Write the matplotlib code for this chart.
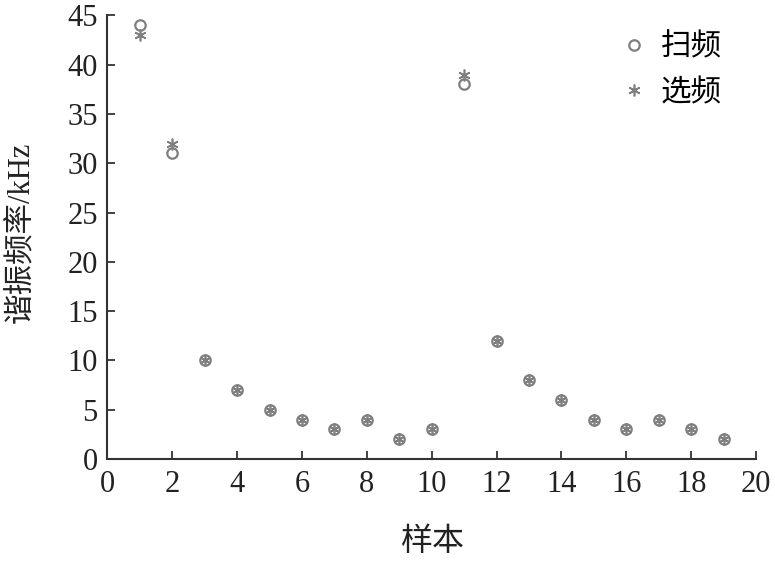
import matplotlib
matplotlib.use("Agg")
import matplotlib.pyplot as plt

plt.rcParams['font.family'] = ['Liberation Serif', 'Noto Sans CJK SC']

samples = list(range(1, 20))
sweep = [44, 31, 10, 7, 5, 4, 3, 4, 2, 3, 38, 12, 8, 6, 4, 3, 4, 3, 2]
select = [43, 32, 10, 7, 5, 4, 3, 4, 2, 3, 39, 12, 8, 6, 4, 3, 4, 3, 2]
xticks = list(range(0, 21, 2))
yticks = list(range(0, 46, 5))

fig = plt.figure(figsize=(7.75, 5.61), dpi=100)
ax = fig.add_axes([0.1387, 0.1818, 0.9755 - 0.1387, 0.9724 - 0.1818])

grey = '#7f7f7f'
ax.plot(samples, sweep, linestyle='none', marker='o', markersize=7.5,
        markerfacecolor='none', markeredgecolor=grey, markeredgewidth=1.6, label='扫频')
ax.plot(samples, select, linestyle='none', marker=(6, 2, 0), markersize=8.5,
        markeredgecolor=grey, markeredgewidth=1.2, color=grey, label='选频')

ax.set_xlim(0, 20)
ax.set_ylim(0, 45)
ax.set_xticks(xticks)
ax.set_yticks(yticks)
ax.tick_params(direction='in', length=6, width=1.2, labelsize=22, pad=8, colors='#222222')
ax.tick_params(axis='y', pad=7)
for s in ['top', 'right']:
    ax.spines[s].set_visible(False)
for s in ['left', 'bottom']:
    ax.spines[s].set_linewidth(1.5)
    ax.spines[s].set_color('#333333')

ax.set_xlabel('样本', fontsize=23, color='#222222')
ax.xaxis.set_label_coords(0.5, -0.155)
ax.set_ylabel('谐振频率/kHz', fontsize=22, color='#222222')
ax.yaxis.set_label_coords(-0.11, 0.51)

leg = ax.legend(loc='upper right', frameon=False, fontsize=22, handletextpad=0.15,
                bbox_to_anchor=(0.99, 1.022), labelspacing=0.55, handlelength=1.5)

fig.savefig('out.png', dpi=100)
